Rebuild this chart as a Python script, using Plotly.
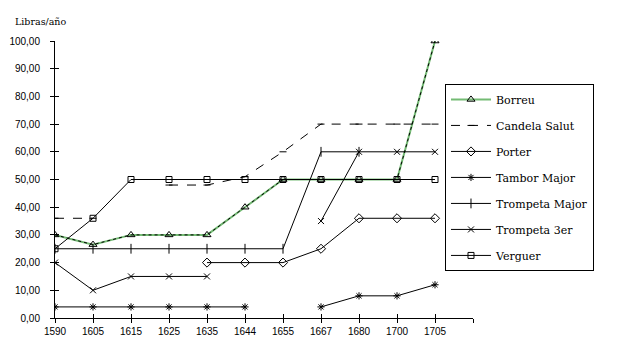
import plotly.graph_objects as go

years = ["1590", "1605", "1615", "1625", "1635", "1644", "1655", "1667", "1680", "1700", "1705"]
y_ticks = [0, 10, 20, 30, 40, 50, 60, 70, 80, 90, 100]
y_tick_labels = ["0,00", "10,00", "20,00", "30,00", "40,00", "50,00", "60,00", "70,00", "80,00", "90,00", "100,00"]

borreu = [30, 26.5, 30, 30, 30, 40, 50, 50, 50, 50, 100]
candela_salut = [36, 36, None, 48, 48, 51, 60, 70, 70, 70, 70]
porter = [None, None, None, None, 20, 20, 20, 25, 36, 36, 36]
tambor_major = [4, 4, 4, 4, 4, 4, None, 4, 8, 8, 12]
trompeta_major = [25, 25, 25, 25, 25, 25, 25, 60, 60, None, None]
trompeta_3er = [20, 10, 15, 15, 15, None, None, 35, 60, 60, 60]
verguer = [25, 36, 50, 50, 50, 50, 50, 50, 50, 50, 50]

xi = list(range(len(years)))
fig = go.Figure()

SERIF = "DejaVu Serif"
SANS = "Liberation Sans"

def add(name, vals, symbol, dash="solid", size=7):
    fig.add_trace(go.Scatter(
        x=xi, y=vals, name=name, mode="lines+markers",
        line=dict(color="black", width=1, dash=dash),
        marker=dict(symbol=symbol, size=size, color="black", line=dict(color="black", width=1)),
        legendgroup=name, connectgaps=False, hoverinfo="skip"))

# Borreu: green line with black dotted overlay
fig.add_trace(go.Scatter(
    x=xi, y=borreu, name="Borreu", mode="lines+markers",
    line=dict(color="#74bb74", width=2),
    marker=dict(symbol="triangle-up-open", size=7, color="black", line=dict(color="black", width=1)),
    legendgroup="Borreu", hoverinfo="skip"))
fig.add_trace(go.Scatter(
    x=xi, y=borreu, mode="lines", line=dict(color="black", width=1, dash="dot"),
    legendgroup="Borreu", showlegend=False, hoverinfo="skip"))

add("Candela Salut", candela_salut, "line-ew-open", dash="dash", size=5)
add("Porter", porter, "diamond-open", size=7)
add("Tambor Major", tambor_major, "asterisk-open", size=6)
add("Trompeta Major", trompeta_major, "line-ns-open", size=7)
add("Trompeta 3er", trompeta_3er, "x-thin-open", size=6)
add("Verguer", verguer, "square-open", size=6)

# invisible trace to materialise overlay axes (crossing tick marks)
fig.add_trace(go.Scatter(x=[0], y=[0], xaxis="x2", yaxis="y2", mode="markers",
                         marker=dict(opacity=0), showlegend=False, hoverinfo="skip"))

tick_vals_x = list(range(len(years) + 1))
tick_text_x = years + [""]

fig.update_layout(
    width=615, height=348,
    margin=dict(l=47, r=150, t=33, b=38, autoexpand=False),
    paper_bgcolor="white", plot_bgcolor="white",
    font=dict(family=SANS, size=10, color="black"),
    xaxis=dict(range=[0, 11], tickvals=tick_vals_x, ticktext=tick_text_x, automargin=False,
               showgrid=False, zeroline=False, showline=True, linecolor="black", linewidth=1,
               ticks="outside", ticklen=4, tickcolor="black", tickwidth=1,
               tickfont=dict(family=SANS, size=10, color="black")),
    yaxis=dict(range=[0, 100], tickvals=y_ticks, ticktext=y_tick_labels, automargin=False,
               showgrid=False, zeroline=False, showline=True, linecolor="black", linewidth=1,
               ticks="outside", ticklen=4, tickcolor="black", tickwidth=1, ticklabelstandoff=8,
               tickfont=dict(family=SANS, size=10, color="black")),
    xaxis2=dict(range=[0, 11], tickvals=tick_vals_x, overlaying="x", anchor="y2", automargin=False,
                showticklabels=False, showgrid=False, zeroline=False, showline=False,
                ticks="inside", ticklen=4, tickcolor="black", tickwidth=1),
    yaxis2=dict(range=[0, 100], tickvals=y_ticks, overlaying="y", anchor="x2", automargin=False,
                showticklabels=False, showgrid=False, zeroline=False, showline=False,
                ticks="inside", ticklen=4, tickcolor="black", tickwidth=1),
    legend=dict(x=0.933, y=0.845, xanchor="left", yanchor="top",
                bordercolor="black", borderwidth=1, bgcolor="white",
                traceorder="grouped", tracegroupgap=7, itemwidth=40,
                font=dict(family=SERIF, size=11, color="black")),
    showlegend=True,
    annotations=[dict(text="Libras/año", xref="paper", yref="paper", x=-0.1, y=1.045,
                      xanchor="left", yanchor="bottom", showarrow=False,
                      font=dict(family=SERIF, size=9.5, color="black"))],
)

fig.write_html("out.html")
